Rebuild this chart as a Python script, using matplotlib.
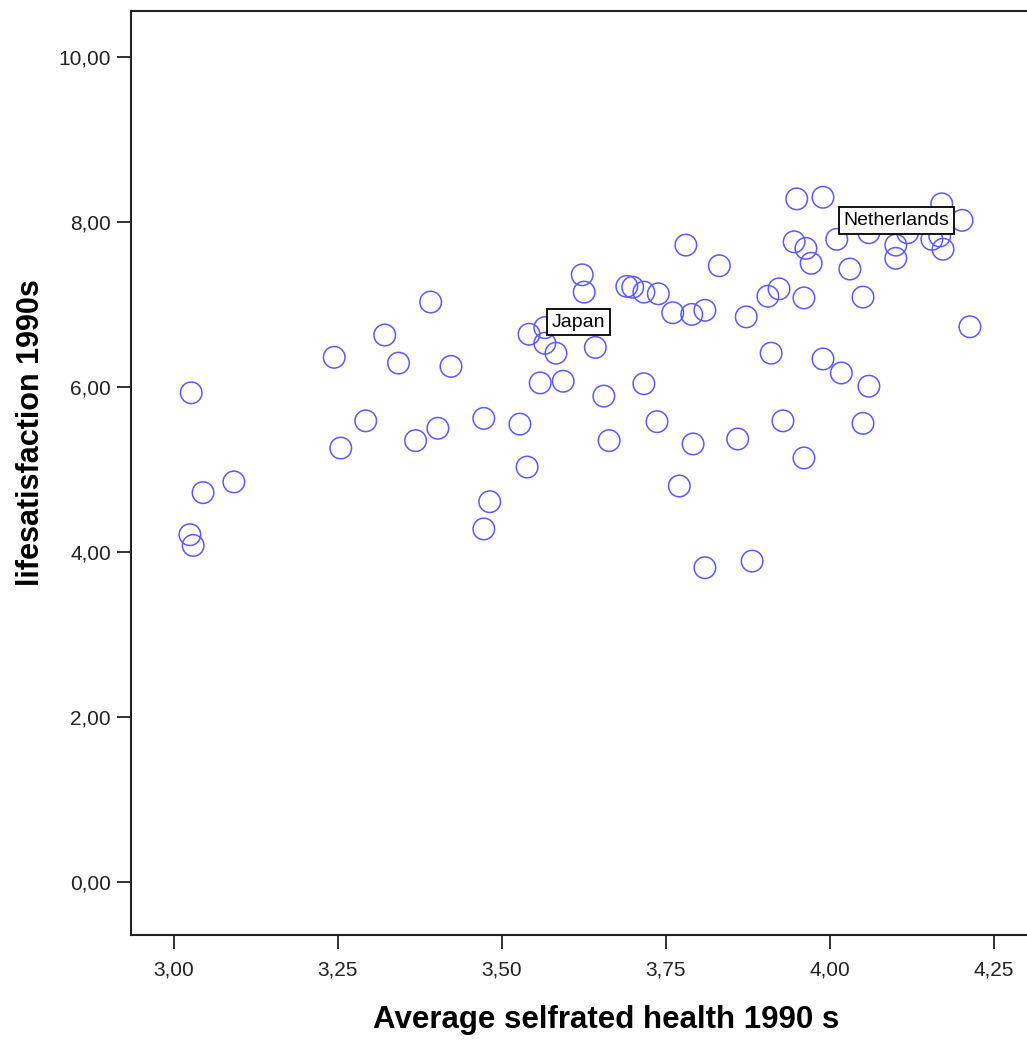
import matplotlib
matplotlib.use('Agg')
import matplotlib.pyplot as plt
from matplotlib.ticker import FixedLocator, FixedFormatter

plt.rcParams['font.family'] = ['Liberation Sans', 'DejaVu Sans']

# average selfrated health (x) and life satisfaction (y), 1990s
health = [3.027, 3.025, 3.030, 3.045, 3.092, 3.245, 3.255, 3.293, 3.322, 3.343,
          3.369, 3.392, 3.403, 3.423, 3.473, 3.473, 3.482, 3.528, 3.539, 3.542,
          3.559, 3.566, 3.566, 3.583, 3.594, 3.623, 3.626, 3.643, 3.656, 3.664,
          3.691, 3.700, 3.717, 3.717, 3.737, 3.739, 3.761, 3.771, 3.781, 3.790,
          3.792, 3.810, 3.810, 3.832, 3.860, 3.873, 3.882, 3.906, 3.911, 3.923,
          3.929, 3.946, 3.950, 3.961, 3.961, 3.964, 3.972, 3.990, 3.990, 4.011,
          4.018, 4.031, 4.051, 4.051, 4.060, 4.060, 4.101, 4.101, 4.119, 4.156,
          4.168, 4.171, 4.173, 4.202, 4.214]
satisfaction = [5.93, 4.21, 4.08, 4.72, 4.85, 6.36, 5.26, 5.59, 6.63, 6.29,
                5.35, 7.03, 5.50, 6.25, 5.62, 4.28, 4.61, 5.55, 5.03, 6.64,
                6.05, 6.72, 6.53, 6.41, 6.07, 7.36, 7.15, 6.48, 5.89, 5.35,
                7.22, 7.21, 7.15, 6.04, 5.58, 7.13, 6.90, 4.80, 7.72, 6.88,
                5.31, 6.93, 3.81, 7.47, 5.37, 6.85, 3.89, 7.10, 6.41, 7.19,
                5.59, 7.76, 8.28, 7.08, 5.14, 7.68, 7.50, 8.30, 6.34, 7.79,
                6.17, 7.43, 7.09, 5.56, 7.87, 6.01, 7.72, 7.56, 7.87, 7.79,
                7.83, 8.22, 7.67, 8.02, 6.73]

# labelled cases: name, x, y
labelled = [('Japan', 3.566, 6.72), ('Netherlands', 4.119, 7.87)]

xticks = [3.00, 3.25, 3.50, 3.75, 4.00, 4.25]
xticklabels = ['3,00', '3,25', '3,50', '3,75', '4,00', '4,25']
yticks = [0, 2, 4, 6, 8, 10]
yticklabels = ['0,00', '2,00', '4,00', '6,00', '8,00', '10,00']

fig = plt.figure(figsize=(10.27, 10.41), dpi=100)
ax = fig.add_axes([0.1271, 0.1018, 0.8729, 0.8876])

ax.scatter(health, satisfaction, s=15.5**2, facecolors='none',
           edgecolors='#5a5aff', linewidths=1.1, zorder=3)

# case labels in boxes, offset like the SPSS point labels
offsets = {'Japan': (24, 4), 'Netherlands': (-8, 9)}
for name, lx, ly in labelled:
    ax.annotate(name, xy=(lx, ly), xytext=offsets[name], textcoords='offset points',
                ha='center', va='center', fontsize=14, zorder=5,
                bbox=dict(boxstyle='square,pad=0.25', fc='white', ec='black', lw=1.3))

ax.set_xlim(2.9345, 4.301)
ax.set_ylim(-0.642, 10.557)

ax.xaxis.set_major_locator(FixedLocator(xticks))
ax.xaxis.set_major_formatter(FixedFormatter(xticklabels))
ax.yaxis.set_major_locator(FixedLocator(yticks))
ax.yaxis.set_major_formatter(FixedFormatter(yticklabels))

ax.tick_params(axis='both', direction='out', length=10, width=1.3,
               color='#222222', labelsize=15, labelcolor='#222222')
ax.tick_params(axis='x', pad=8)
ax.tick_params(axis='y', pad=4)

ax.spines['right'].set_visible(False)
for side in ['left', 'top', 'bottom']:
    ax.spines[side].set_linewidth(1.5)
    ax.spines[side].set_color('#222222')

ax.set_xlabel('Average selfrated health 1990 s', fontsize=22.5, fontweight='bold', va='center')
ax.xaxis.set_label_coords(0.531, -0.092)
ax.set_ylabel('lifesatisfaction 1990s', fontsize=22, fontweight='bold', va='center')
ax.yaxis.set_label_coords(-0.111, 0.544)

fig.savefig('out.png', dpi=100, facecolor='white')
